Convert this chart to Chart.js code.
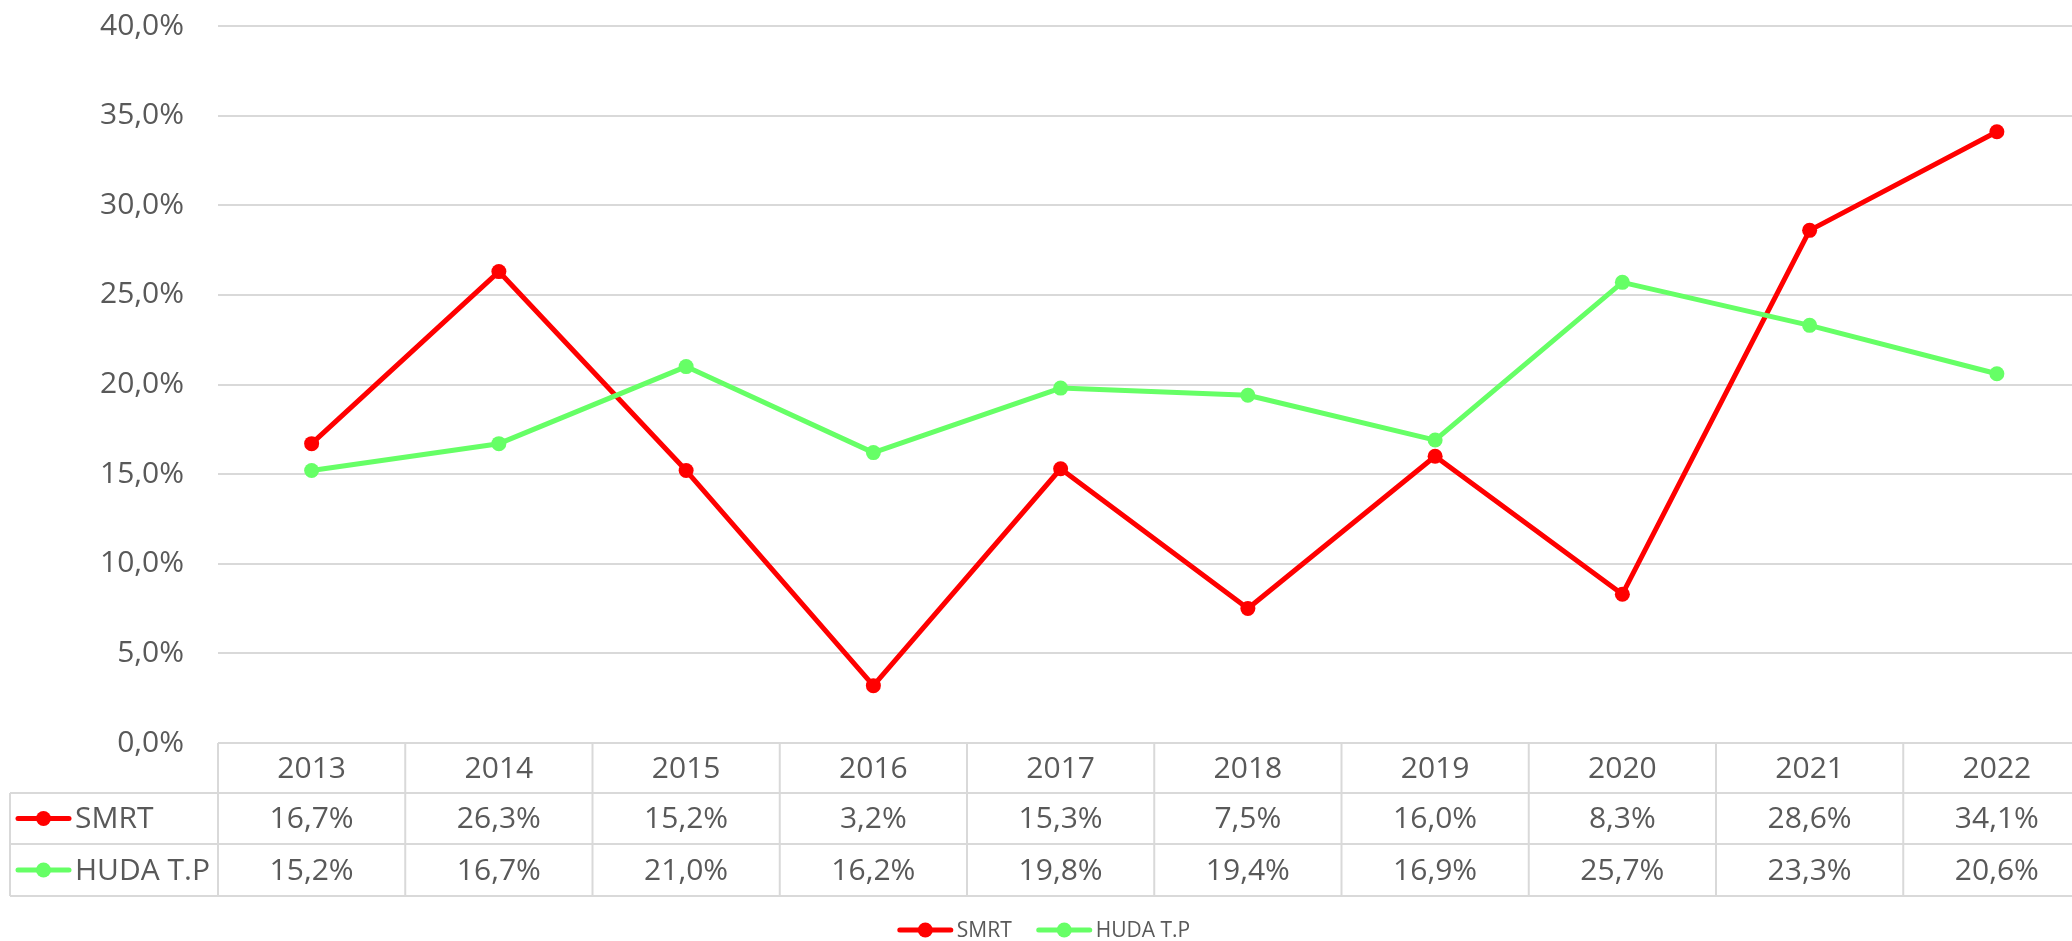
<!DOCTYPE html>
<html>
<head>
<meta charset="utf-8">
<script src="https://cdn.jsdelivr.net/npm/chart.js@4.4.1/dist/chart.umd.min.js"></script>
<style>
  html, body { margin: 0; padding: 0; overflow: hidden; background: #fff; }
  #wrap { width: 2072px; height: 941px; overflow: hidden; }
  canvas { display: block; }
</style>
</head>
<body>
<div id="wrap"><canvas id="grafico" width="2098" height="941"></canvas></div>
<script>
// --- DATOS ---
const years = ["2013", "2014", "2015", "2016", "2017", "2018", "2019", "2020", "2021", "2022"];
const smrt = [16.7, 26.3, 15.2, 3.2, 15.3, 7.5, 16.0, 8.3, 28.6, 34.1];
const huda = [15.2, 16.7, 21.0, 16.2, 19.8, 19.4, 16.9, 25.7, 23.3, 20.6];
const seriesNames = ["SMRT", "HUDA T.P"];
const seriesColors = ["#FF0000", "#66FF66"];
const yMin = 0, yMax = 40, yStep = 5;

const FONT = "'Open Sans', 'Noto Sans', sans-serif";
const TEXT = "#595959";
const LINEA = "#D9D9D9";

const pct = v => v.toFixed(1).replace(".", ",") + "%";

// icono linea + punto (tabla y leyenda)
function dibujaIcono(ctx, x1, x2, y, color) {
  ctx.save();
  ctx.strokeStyle = color;
  ctx.lineWidth = 5;
  ctx.lineCap = "round";
  ctx.beginPath();
  ctx.moveTo(x1, y);
  ctx.lineTo(x2, y);
  ctx.stroke();
  ctx.fillStyle = color;
  ctx.beginPath();
  ctx.arc((x1 + x2) / 2, y, 7.5, 0, Math.PI * 2);
  ctx.fill();
  ctx.restore();
}

// --- TABLA DE DATOS + LEYENDA ---
const tablaPlugin = {
  id: "tabla",
  afterDraw(chart) {
    const ctx = chart.ctx;
    const x = chart.scales.x;
    const area = chart.chartArea;
    const colW = (area.right - area.left) / years.length;
    const b = area.bottom;
    const rows = [b, b + 50, b + 101, b + 153];
    const leftEdge = 10;

    ctx.save();
    ctx.strokeStyle = LINEA;
    ctx.lineWidth = 2;
    ctx.beginPath();
    ctx.moveTo(area.left, rows[0]); ctx.lineTo(area.right, rows[0]);
    for (let i = 1; i < rows.length; i++) {
      ctx.moveTo(leftEdge, rows[i]); ctx.lineTo(area.right, rows[i]);
    }
    ctx.moveTo(leftEdge, rows[1]); ctx.lineTo(leftEdge, rows[3]);
    for (let k = 0; k <= years.length; k++) {
      const vx = area.left + k * colW;
      ctx.moveTo(vx, rows[0]); ctx.lineTo(vx, rows[3]);
    }
    ctx.stroke();

    ctx.fillStyle = TEXT;
    ctx.font = "30px " + FONT;
    ctx.textAlign = "center";
    ctx.textBaseline = "middle";
    const series = [smrt, huda];
    years.forEach((yr, i) => {
      const cx = x.getPixelForValue(i);
      ctx.fillText(yr, cx, (rows[0] + rows[1]) / 2 + 1);
      series.forEach((s, j) => {
        ctx.fillText(pct(s[i]), cx, (rows[j + 1] + rows[j + 2]) / 2 + 1);
      });
    });

    ctx.textAlign = "left";
    seriesNames.forEach((name, j) => {
      const cy = (rows[j + 1] + rows[j + 2]) / 2;
      dibujaIcono(ctx, 18, 69, cy, seriesColors[j]);
      ctx.fillStyle = TEXT;
      ctx.fillText(name, 75, cy + 1);
    });

    // leyenda inferior
    ctx.font = "21px " + FONT;
    const ly = b + 187;
    const gap = 4, iconW = 55, sep = 25;
    const widths = seriesNames.map(n => iconW + gap + ctx.measureText(n).width);
    const total = widths[0] + sep + widths[1];
    let lx = 1044 - total / 2;
    seriesNames.forEach((name, j) => {
      dibujaIcono(ctx, lx + 2, lx + iconW - 2, ly, seriesColors[j]);
      ctx.fillStyle = TEXT;
      ctx.fillText(name, lx + iconW + gap, ly + 1);
      lx += widths[j] + sep;
    });
    ctx.restore();
  }
};

// --- GRAFICO ---
const ctx = document.getElementById("grafico");
new Chart(ctx, {
  type: "line",
  data: {
    labels: years,
    datasets: [
      {
        label: seriesNames[0], data: smrt, order: 2,
        borderColor: seriesColors[0], backgroundColor: seriesColors[0],
        borderWidth: 5, pointRadius: 7.5, pointBorderWidth: 0,
        pointBackgroundColor: seriesColors[0], borderJoinStyle: "round", tension: 0
      },
      {
        label: seriesNames[1], data: huda, order: 1,
        borderColor: seriesColors[1], backgroundColor: seriesColors[1],
        borderWidth: 5, pointRadius: 7.5, pointBorderWidth: 0,
        pointBackgroundColor: seriesColors[1], borderJoinStyle: "round", tension: 0
      }
    ]
  },
  options: {
    responsive: false,
    animation: false,
    devicePixelRatio: 1,
    layout: { padding: { top: 26, right: 3, bottom: 941 - 743, left: 0 } },
    plugins: { legend: { display: false }, tooltip: { enabled: false } },
    scales: {
      x: { display: false, offset: true },
      y: {
        min: yMin, max: yMax,
        afterFit: s => { s.width = 218; },
        border: { display: false },
        // marca invisible de 34px para separar las etiquetas del area
        grid: { color: LINEA, lineWidth: 2, drawTicks: true, tickLength: 34, tickColor: "rgba(0,0,0,0)" },
        ticks: {
          stepSize: yStep, padding: 0, color: TEXT,
          font: { family: FONT, size: 30 },
          callback: v => pct(v)
        }
      }
    }
  },
  plugins: [tablaPlugin]
});
</script>
</body>
</html>
